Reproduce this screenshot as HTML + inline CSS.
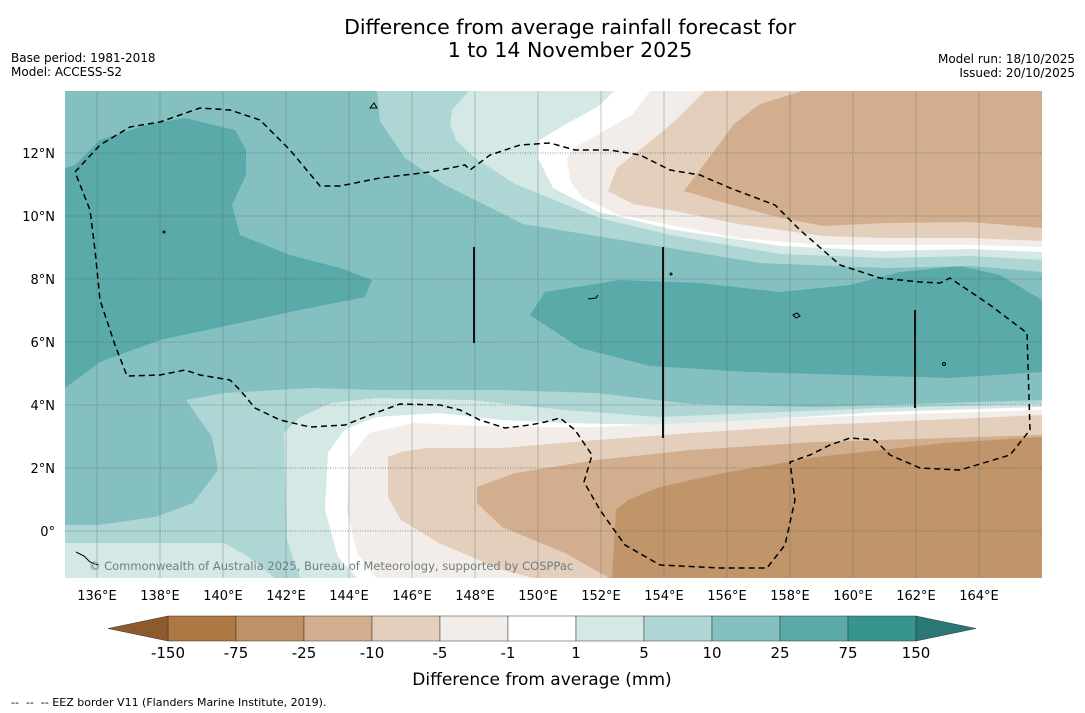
<!DOCTYPE html>
<html><head><meta charset="utf-8"><style>
body{margin:0;background:#fff;}
svg{display:block;font-family:"DejaVu Sans","Liberation Sans",sans-serif;}
</style></head><body>
<svg id="fig" width="1085" height="713" viewBox="0 0 1085 713" xmlns="http://www.w3.org/2000/svg">
<rect width="1085" height="713" fill="#fff"/>
<text x="570" y="34" font-size="20.5" text-anchor="middle" fill="#000">Difference from average rainfall forecast for</text>
<text x="570" y="57" font-size="20.5" text-anchor="middle" fill="#000">1 to 14 November 2025</text>
<text x="11" y="62" font-size="12">Base period: 1981-2018</text>
<text x="11" y="76" font-size="12">Model: ACCESS-S2</text>
<text x="1075" y="63" font-size="12" text-anchor="end">Model run: 18/10/2025</text>
<text x="1075" y="77" font-size="12" text-anchor="end">Issued: 20/10/2025</text>
<defs><clipPath id="mapclip"><rect x="65" y="91" width="977" height="487"/></clipPath></defs>
<g id="map" clip-path="url(#mapclip)">
<rect x="65" y="91" width="977" height="487" fill="#84c0bf"/>
<path fill="#5aaaaa" d="M65,168 L75,165 L100,140 L150,124 L185,118 L235,130 L246,150 L246,175 L232,205 L240,235 L290,255 L340,268 L372,280 L365,297 L300,310 L230,325 L160,340 L100,362 L65,388 Z"/>
<path fill="#5aaaaa" d="M530,315 L545,292 L620,280 L700,283 L780,292 L850,285 L900,272 L960,266 L1000,275 L1042,300 L1042,372 L950,378 L850,375 L750,372 L650,366 L580,348 Z"/>
<path fill="#aed6d5" d="M377,91 L380,121 L405,158 L443,184 L523,224 L633,242 L760,263 L886,268 L971,266 L1042,272 L1042,91 Z"/>
<path fill="#d4e8e6" d="M469,91 L452,110 L450,125 L456,140 L475,158 L515,184 L599,218 L675,236 L781,254 L886,258 L971,256 L1042,260 L1042,91 Z"/>
<path fill="#ffffff" d="M614,91 L599,106 L566,124 L538,141 L538,158 L553,188 L599,212 L675,230 L781,246 L886,251 L971,249 L1042,252 L1042,91 Z"/>
<path fill="#f2ede8" d="M650,91 L633,114 L604,131 L574,148 L567,158 L570,181 L583,198 L617,214 L675,226 L738,238 L823,245 L971,245 L1042,247 L1042,91 Z"/>
<path fill="#e3cfbc" d="M705,91 L675,121 L642,148 L617,168 L608,191 L633,204 L675,211 L738,224 L823,236 L886,238 L971,238 L1042,241 L1042,91 Z"/>
<path fill="#d2ae8e" d="M802,91 L760,104 L734,124 L709,158 L684,191 L718,201 L781,218 L823,226 L886,223 L971,222 L1042,228 L1042,91 Z"/>
<path fill="#aed6d5" d="M65,525 L98,525 L155,517 L193,503 L218,470 L212,437 L186,400 L224,393 L312,388 L376,390 L502,390 L597,393 L691,404 L817,407 L943,403 L1042,400 L1042,578 L65,578 Z"/>
<path fill="#d4e8e6" d="M65,543 L224,543 L249,557 L275,578 L65,578 Z"/>
<path fill="#d4e8e6" d="M300,578 L287,540 L284,433 L300,417 L331,403 L376,398 L470,400 L565,410 L660,417 L755,413 L881,408 L1042,404 L1042,578 Z"/>
<path fill="#ffffff" d="M357,578 L338,557 L325,510 L328,453 L344,430 L376,417 L439,413 L502,420 L565,423 L660,425 L754,420 L881,412 L1042,407 L1042,578 Z"/>
<path fill="#f2ede8" d="M376,578 L357,553 L347,510 L350,457 L369,433 L414,423 L502,427 L597,427 L691,423 L817,417 L1042,410 L1042,578 Z"/>
<path fill="#e3cfbc" d="M533,578 L502,570 L439,543 L401,520 L388,497 L388,457 L401,452 L426,448 L502,448 L597,440 L691,433 L817,425 L1042,415 L1042,578 Z"/>
<path fill="#d2ae8e" d="M609,578 L565,553 L502,527 L477,503 L477,487 L515,473 L597,460 L691,450 L817,442 L1042,435 L1042,578 Z"/>
<path fill="#c0956a" d="M612,578 L616,510 L628,500 L660,487 L723,473 L817,457 L944,443 L1042,437 L1042,578 Z"/>
<g id="grid"></g>
<path fill="none" stroke="#000" stroke-width="1.5" stroke-dasharray="6,4" d="M75,172 L100,145 L130,127 L160,122 L200,108 L230,110 L260,120 L290,150 L320,186 L340,186 L380,178 L430,172 L465,165 L470,170 L490,155 L520,145 L550,143 L575,150 L610,150 L640,155 L670,170 L700,175 L730,188 L775,205 L800,230 L840,265 L880,278 L920,282 L940,283 L950,278 L990,305 L1027,333 L1030,430 L1010,455 L960,470 L920,468 L890,455 L875,440 L850,438 L830,445 L810,455 L790,462 L795,500 L785,545 L767,568 L720,568 L660,565 L625,545 L600,510 L584,482 L592,455 L575,430 L560,418 L545,422 L530,425 L505,428 L480,420 L460,410 L440,405 L400,404 L370,415 L345,425 L310,427 L280,420 L255,408 L240,390 L230,380 L200,375 L185,370 L160,375 L127,376 L115,345 L100,300 L95,250 L90,210 Z"/>
<line x1="474" y1="247" x2="474" y2="343" stroke="#111" stroke-width="2"/>
<line x1="663" y1="247" x2="663" y2="438" stroke="#111" stroke-width="2"/>
<line x1="915" y1="310" x2="915" y2="408" stroke="#111" stroke-width="2"/>
<g fill="none" stroke="#000" stroke-width="1">
<path d="M370,108 l4,-5 l3,5 z"/><path d="M588,299 l8,-1 l2,-3"/><path d="M793,315 l4,-2 l3,3 l-4,2 z"/><path d="M76,552 l8,4 l6,6 l8,3"/><circle cx="164" cy="232" r="1"/><circle cx="671" cy="274" r="1"/><circle cx="944" cy="364" r="1.5"/>
</g>
<text x="89" y="570" font-size="11.5" fill="#6f7f7f">© Commonwealth of Australia 2025, Bureau of Meteorology, supported by COSPPac</text>
</g>
<g id="axes"></g>
<g id="colorbar"></g>
<text x="542" y="685" font-size="17" text-anchor="middle">Difference from average (mm)</text>
<text x="11" y="706" font-size="11" style="white-space:pre" xml:space="preserve">--  --  -- EEZ border V11 (Flanders Marine Institute, 2019).</text>
</svg>
<script>
const lonTicks=[136,138,140,142,144,146,148,150,152,154,156,158,160,162,164];
const latTicks=[0,2,4,6,8,10,12];
const levelLabels=["-150","-75","-25","-10","-5","-1","1","5","10","25","75","150"];
const levelColors=["#ad7843","#be9167","#d2ae8e","#e3cfbc","#f2ede8","#ffffff","#d4e8e6","#aed6d5","#84c0bf","#5aaaaa","#37958f"];
const extendColors=["#8c5a2d","#2a7873"];
const NS="http://www.w3.org/2000/svg";
function X(lon){return 97+(lon-136)*31.5;}
function Y(lat){return 531-lat*31.5;}
function mk(tag,attrs,parent){const e=document.createElementNS(NS,tag);for(const k in attrs)e.setAttribute(k,attrs[k]);parent.appendChild(e);return e;}
const grid=document.getElementById('grid');
const axes=document.getElementById('axes');
lonTicks.forEach(l=>{
  const ln=mk('line',{x1:X(l),x2:X(l),y1:91,y2:578,stroke:'#5e6e6a','stroke-width':0.6,'stroke-opacity':0.6},grid);
  
  
  const t=mk('text',{x:X(l),y:600,'font-size':13,'text-anchor':'middle'},axes);
  t.textContent=l+'°E';
  
  
});
latTicks.forEach(l=>{
  const ln=mk('line',{x1:65,x2:1042,y1:Y(l),y2:Y(l),stroke:'#4a5550','stroke-width':0.8,'stroke-dasharray':'1,1.5','stroke-opacity':0.8},grid);
  
  
  const t=mk('text',{x:55,y:Y(l)+5,'font-size':13,'text-anchor':'end'},axes);
  t.textContent=l===0?'0°':l+'°N';
  
  
});
const cb=document.getElementById('colorbar');
const cx0=168,cw=68,cy=616,ch=25;
levelColors.forEach((c,i)=>{
  const r=mk('rect',{x:cx0+i*cw,y:cy,width:cw,height:ch,fill:c,stroke:'#333','stroke-width':0.5},cb);
  
  
});
const xe=cx0+levelColors.length*cw;
const tl=mk('polygon',{points:`108,${cy+ch/2} ${cx0},${cy} ${cx0},${cy+ch}`,fill:extendColors[0],stroke:'#333','stroke-width':0.5},cb);


const tr=mk('polygon',{points:`${xe},${cy} ${xe+60},${cy+ch/2} ${xe},${cy+ch}`,fill:extendColors[1],stroke:'#333','stroke-width':0.5},cb);


levelLabels.forEach((s,i)=>{
  const t=mk('text',{x:cx0+i*cw,y:658,'font-size':15,'text-anchor':'middle'},cb);
  t.textContent=s;
  
  
});
</script>
</body></html>
